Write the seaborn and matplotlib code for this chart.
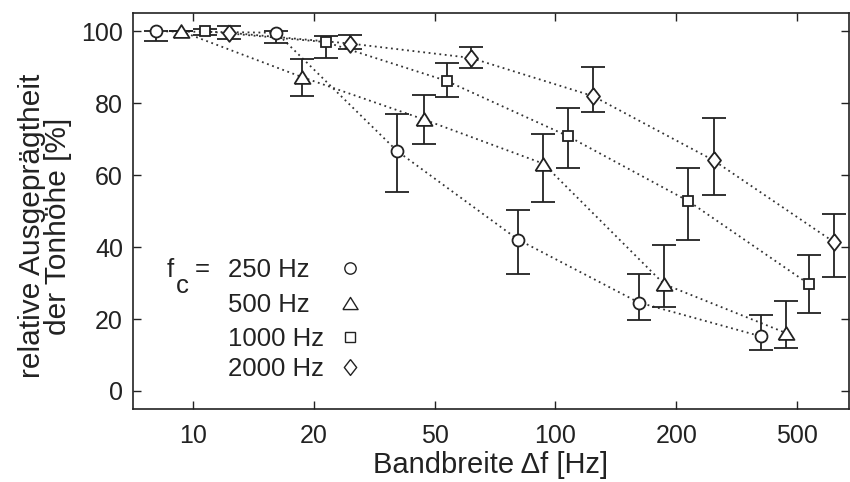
import numpy as np
import pandas as pd
import matplotlib
matplotlib.use("Agg")
import matplotlib.pyplot as plt
import seaborn as sns

# ---------------- data ----------------
bw_tick_labels = ["10", "20", "50", "100", "200", "500"]   # equally spaced categories
fc_labels = ["250 Hz", "500 Hz", "1000 Hz", "2000 Hz"]

# x positions in tick-index units (0 = "10", 1 = "20", ...)
x_250 = [-0.31, 0.69, 1.69, 2.69, 3.69, 4.70]
y_250 = [100.0, 99.6, 66.7, 42.1, 24.6, 15.2]
lo_250 = [2.6, 2.8, 11.5, 9.7, 4.9, 3.7]
hi_250 = [0.0, 0.4, 10.4, 8.3, 8.0, 5.8]

x_500 = [-0.10, 0.90, 1.91, 2.90, 3.90, 4.91]
y_500 = [100.0, 87.3, 75.5, 63.2, 29.7, 16.1]
lo_500 = [0.0, 5.3, 6.8, 10.7, 6.3, 4.1]
hi_500 = [0.0, 5.0, 6.8, 8.2, 10.8, 8.8]

x_1000 = [0.10, 1.10, 2.10, 3.10, 4.10, 5.10]
y_1000 = [100.0, 97.0, 86.2, 70.9, 52.8, 29.7]
lo_1000 = [1.0, 4.3, 4.6, 8.9, 10.9, 8.0]
hi_1000 = [0.5, 1.7, 5.0, 7.8, 9.2, 8.0]

x_2000 = [0.30, 1.30, 2.30, 3.31, 4.31, 5.31]
y_2000 = [99.6, 96.6, 92.6, 82.0, 64.1, 41.3]
lo_2000 = [1.8, 1.6, 2.8, 4.4, 9.6, 9.7]
hi_2000 = [1.8, 2.5, 3.0, 8.1, 11.8, 7.9]

frames = []
for lab, xs, ys, lo, hi in [(fc_labels[0], x_250, y_250, lo_250, hi_250),
                            (fc_labels[1], x_500, y_500, lo_500, hi_500),
                            (fc_labels[2], x_1000, y_1000, lo_1000, hi_1000),
                            (fc_labels[3], x_2000, y_2000, lo_2000, hi_2000)]:
    frames.append(pd.DataFrame({"fc": lab, "x": xs, "y": ys, "lo": lo, "hi": hi}))
df = pd.concat(frames, ignore_index=True)

# ---------------- style ----------------
sns.set_theme(style="ticks")
plt.rcParams["font.family"] = ["Liberation Sans", "DejaVu Sans"]

INK = "#222222"

tri = [(-1.0, -0.8), (1.0, -0.8), (0.0, 0.8), (-1.0, -0.8)]
dia = [(0.0, 1.0), (0.78, 0.0), (0.0, -1.0), (-0.78, 0.0), (0.0, 1.0)]
markers = {fc_labels[0]: ("o", 8.6), fc_labels[1]: (tri, 11.5),
           fc_labels[2]: ("s", 7.7), fc_labels[3]: (dia, 12.0)}

fig, ax = plt.subplots(figsize=(8.5, 4.82), dpi=100)
fig.subplots_adjust(left=0.156, right=0.9988, bottom=0.1515, top=0.9724)

for lab in fc_labels:
    d = df[df["fc"] == lab]
    sns.lineplot(data=d, x="x", y="y", ax=ax, sort=False, estimator=None,
                 color="#333333", linewidth=1.3, linestyle=(0, (1, 2.0)),
                 zorder=1, legend=False)
    ax.errorbar(d["x"], d["y"], yerr=[d["lo"], d["hi"]], fmt="none",
                ecolor=INK, elinewidth=1.3, capsize=8.3, capthick=1.3, zorder=2)
    m, ms = markers[lab]
    ax.plot(d["x"], d["y"], linestyle="none", marker=m, markersize=ms,
            markerfacecolor="white", markeredgecolor=INK, markeredgewidth=1.3,
            zorder=3)

# custom legend block
leg_y = [33.6, 24.0, 14.4, 6.0]
for lab, yy in zip(fc_labels, leg_y):
    ax.text(0.29, yy, lab, fontsize=18.5, color=INK, va="center", ha="left")
    m, ms = markers[lab]
    ax.plot([1.30], [yy + 0.6], linestyle="none", marker=m, markersize=ms * 0.95,
            markerfacecolor="white", markeredgecolor=INK, markeredgewidth=1.0)
ax.text(-0.215, leg_y[0], "f", fontsize=18.5, color=INK, va="center", ha="left")
ax.text(-0.14, leg_y[0] - 4.3, "c", fontsize=18.5, color=INK, va="center", ha="left")
ax.text(0.015, leg_y[0] + 0.4, "=", fontsize=18.5, color=INK, va="center", ha="left")

ax.set_xlim(-0.5, 5.43)
ax.set_ylim(-5, 105)
ax.set_xticks(range(len(bw_tick_labels)))
ax.set_xticklabels(bw_tick_labels)
ax.set_yticks([0, 20, 40, 60, 80, 100])

for s in ax.spines.values():
    s.set_visible(True)
    s.set_linewidth(1.2)
    s.set_color(INK)

ax.tick_params(axis="both", direction="in", length=5.5, width=1.0, color=INK,
               labelsize=18, labelcolor=INK, top=True, right=True)
ax.tick_params(axis="x", pad=11)
ax.tick_params(axis="y", pad=7)

ax.set_xlabel("Bandbreite Δf [Hz]", fontsize=21, color=INK)
ax.set_ylabel("relative Ausgeprägtheit\nder Tonhöhe [%]", fontsize=21.5, color=INK,
              linespacing=0.9)
ax.xaxis.set_label_coords(0.5, -0.105)
ax.yaxis.set_label_coords(-0.085, 0.462)

fig.savefig("out.png", dpi=100)
